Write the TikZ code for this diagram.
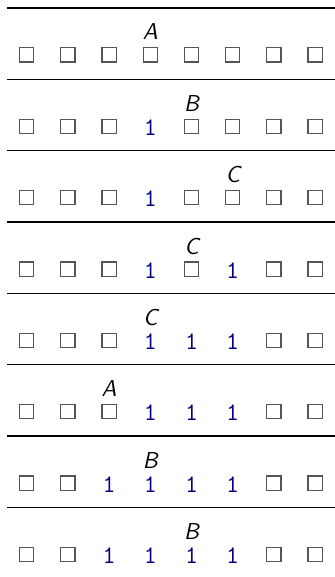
\documentclass[tikz,border=0pt]{standalone}
\usepackage{fontspec}
\definecolor{tmnavy}{RGB}{0,0,128}
\definecolor{cellgray}{RGB}{85,85,85}
\begin{document}
\begin{tikzpicture}[x=0.5pt,y=-0.5pt,
  cellbox/.style={draw=cellgray, line width=0.6pt, minimum size=7.1pt, inner sep=0pt},
  onecell/.style={text=tmnavy, font=\fontsize{12.6}{13}\ttfamily, anchor=base, inner sep=0pt},
  headlabel/.style={font=\fontsize{11.5}{12}\sffamily\itshape, anchor=base, inner sep=0pt},
  sepline/.style={line width=0.65pt, draw=black}]
\useasboundingbox (0,0) rectangle (335,577);
\foreach \r/\L/\h/\cells in {
  0/A/3/{0,0,0,0,0,0,0,0},
  1/B/4/{0,0,0,1,0,0,0,0},
  2/C/5/{0,0,0,1,0,0,0,0},
  3/C/4/{0,0,0,1,0,1,0,0},
  4/C/3/{0,0,0,1,1,1,0,0},
  5/A/2/{0,0,0,1,1,1,0,0},
  6/B/3/{0,0,1,1,1,1,0,0},
  7/B/4/{0,0,1,1,1,1,0,0}}{
  \pgfmathsetmacro\ly{8+71.35*\r}
  \draw[sepline] (7,\ly) -- (335,\ly);
  \node[headlabel] (h\r) at ({26.7+41.2*\h},{\ly+32}) {\L};
  \foreach \v [count=\i from 0] in \cells {
    \ifnum\v=1
      \node[onecell] (c\r-\i) at ({26.7+41.2*\i},{\ly+56}) {1};
    \else
      \node[cellbox] (c\r-\i) at ({26.7+41.2*\i},{\ly+47}) {};
    \fi
  }
}
\end{tikzpicture}
\end{document}
